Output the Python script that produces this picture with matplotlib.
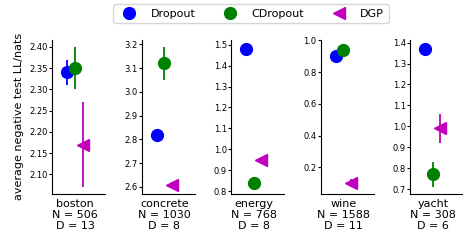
import matplotlib
matplotlib.use('Agg')
import matplotlib.pyplot as plt
from matplotlib.lines import Line2D
from matplotlib.ticker import FormatStrFormatter

datasets = ['boston', 'concrete', 'energy', 'wine', 'yacht']
sizes_n = [506, 1030, 768, 1588, 308]
sizes_d = [13, 8, 8, 11, 6]

methods = ['Dropout', 'CDropout', 'DGP']
colors = ['b', 'g', 'm']
markers = ['o', 'o', '<']

# mean and std error per method, per dataset
means = {
    'Dropout':  [2.34, 2.82, 1.48, 0.90, 1.37],
    'CDropout': [2.35, 3.12, 0.84, 0.94, 0.77],
    'DGP':      [2.17, 2.61, 0.95, 0.10, 0.99],
}
errs = {
    'Dropout':  [0.03, 0.01, 0.01, 0.01, 0.01],
    'CDropout': [0.05, 0.07, 0.02, 0.02, 0.06],
    'DGP':      [0.10, 0.01, 0.01, 0.025, 0.07],
}

fig, axes = plt.subplots(1, 5, figsize=(4.63, 2.41), dpi=100)
fig.subplots_adjust(left=0.113, right=1.0, bottom=0.195, top=0.835, wspace=0.69)

for i, ax in enumerate(axes):
    for j, m in enumerate(methods):
        ax.errorbar([j], [means[m][i]], yerr=[errs[m][i]], fmt=markers[j],
                    color=colors[j], markersize=8.5, elinewidth=1.3,
                    capsize=0)
    ax.set_xlim(-2, 5)
    ax.set_xticks([1])
    ax.set_xticklabels([f'{datasets[i]}\nN = {sizes_n[i]}\nD = {sizes_d[i]}'],
                       fontsize=8, linespacing=1.15)
    ax.tick_params(axis='x', length=0)
    ax.tick_params(axis='y', labelsize=6, length=2, pad=1)
    ax.spines['top'].set_visible(False)
    ax.spines['right'].set_visible(False)

axes[0].yaxis.set_major_formatter(FormatStrFormatter('%.2f'))
axes[0].set_ylabel('average negative test LL/nats', fontsize=8)

handles = [Line2D([], [], marker=markers[j], color=colors[j], linestyle='none',
                  markersize=8.5) for j in range(3)]
fig.legend(handles, methods, loc='upper center', ncol=3, fontsize=8,
           bbox_to_anchor=(0.542, 1.005), columnspacing=2.1,
           handletextpad=0.95, borderpad=0.4)

plt.savefig('out.png', dpi=100)
